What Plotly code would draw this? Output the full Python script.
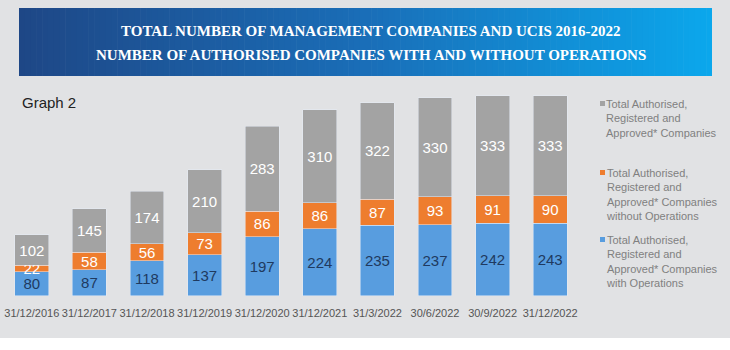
import plotly.graph_objects as go

# ---- data ----
dates = ["31/12/2016", "31/12/2017", "31/12/2018", "31/12/2019", "31/12/2020",
         "31/12/2021", "31/3/2022", "30/6/2022", "30/9/2022", "31/12/2022"]
with_ops = [80, 87, 118, 137, 197, 224, 235, 237, 242, 243]
without_ops = [22, 58, 56, 73, 86, 86, 87, 93, 91, 90]
total = [102, 145, 174, 210, 283, 310, 322, 330, 333, 333]

series_names = [
    "Total Authorised,<br>Registered and<br>Approved* Companies",
    "Total Authorised,<br>Registered and<br>Approved* Companies<br>without Operations",
    "Total Authorised,<br>Registered and<br>Approved* Companies<br>with Operations",
]
title_lines = ["TOTAL NUMBER OF MANAGEMENT COMPANIES AND UCIS 2016-2022",
               "NUMBER OF AUTHORISED COMPANIES WITH AND WITHOUT OPERATIONS"]

W, H = 730, 350
BLUE, ORANGE, GREY = "#589ddf", "#ee7d2e", "#a3a3a3"
BG = "#e1e2e4"
SANS = "Liberation Sans, Arial, sans-serif"

def px_x(x):
    return x / W

def px_y(y):
    return 1 - y / H

fig = go.Figure()
for vals, name, col, tcol in [(with_ops, series_names[2], BLUE, "#1f3a60"),
                              (without_ops, series_names[1], ORANGE, "white"),
                              (total, series_names[0], GREY, "white")]:
    fig.add_trace(go.Bar(x=dates, y=vals, name=name, marker_color=col,
                         texttemplate="%{y}", textposition="inside", insidetextanchor="middle",
                         textangle=0, constraintext="none",
                         textfont=dict(color=tcol, size=15, family=SANS)))

shapes = []
# page background (grey area)
shapes.append(dict(type="rect", xref="paper", yref="paper", x0=0, x1=1,
                   y0=px_y(338), y1=1, fillcolor=BG, line_width=0, layer="below"))

# gradient banner
def lerp(c1, c2, t):
    return tuple(round(a + (b - a) * t) for a, b in zip(c1, c2))

stops = [(0.0, (0x1e, 0x47, 0x86)), (0.5, (0x1a, 0x6e, 0xb8)), (1.0, (0x0b, 0xa7, 0xec))]
bx0, bx1, by0, by1 = 19, 712, 8, 76
n = 120
for i in range(n):
    t = (i + 0.5) / n
    for (ta, ca), (tb, cb) in zip(stops[:-1], stops[1:]):
        if ta <= t <= tb:
            c = lerp(ca, cb, (t - ta) / (tb - ta))
            break
    xa = bx0 + (bx1 - bx0) * i / n
    xb = bx0 + (bx1 - bx0) * (i + 1) / n + 0.6
    shapes.append(dict(type="rect", xref="paper", yref="paper",
                       x0=px_x(xa), x1=px_x(min(xb, bx1)), y0=px_y(by1), y1=px_y(by0),
                       fillcolor="rgb(%d,%d,%d)" % c, line_width=0, layer="below"))

annotations = []
for line, yc in zip(title_lines, [31, 55]):
    annotations.append(dict(xref="paper", yref="paper", x=px_x(371), y=px_y(yc),
                            text="<b>" + line + "</b>", showarrow=False,
                            font=dict(family="Liberation Serif, serif", size=15, color="white"),
                            xanchor="center", yanchor="middle"))
annotations.append(dict(xref="paper", yref="paper", x=px_x(20), y=px_y(103),
                        text="Graph 2", showarrow=False,
                        font=dict(family=SANS, size=15, color="#222222"),
                        xanchor="left", yanchor="middle"))

# custom legend
legend_items = [(series_names[0], GREY, 96), (series_names[1], ORANGE, 165), (series_names[2], BLUE, 232)]
for text, col, top in legend_items:
    annotations.append(dict(xref="paper", yref="paper", x=px_x(604), y=px_y(top),
                            text=text, showarrow=False, align="left",
                            font=dict(family=SANS, size=11, color="#808080"),
                            xanchor="left", yanchor="top"))
    shapes.append(dict(type="rect", xref="paper", yref="paper",
                       x0=px_x(600), x1=px_x(605), y0=px_y(top + 10), y1=px_y(top + 5),
                       fillcolor=col, line_width=0))

ymax = 700
y_bottom, y_top666 = 296, 96
scale = (y_bottom - y_top666) / 666
fig.update_layout(
    width=W, height=H, barmode="stack", bargap=0.41,
    margin=dict(l=0, r=0, t=0, b=0),
    paper_bgcolor="white", plot_bgcolor="rgba(0,0,0,0)",
    showlegend=False,
    shapes=shapes, annotations=annotations,
    uniformtext=dict(minsize=15, mode="show"),
    xaxis=dict(domain=[px_x(3), px_x(579)], range=[-0.5, 9.5], showgrid=False,
               zeroline=False, showline=False, ticks="", automargin=False, tickangle=0,
               tickfont=dict(family=SANS, size=11, color="#555555"), ticklabelstandoff=9),
    yaxis=dict(domain=[px_y(y_bottom), px_y(y_bottom - ymax * scale)], range=[0, ymax],
               visible=False, automargin=False),
)

fig.write_html("out.html")
